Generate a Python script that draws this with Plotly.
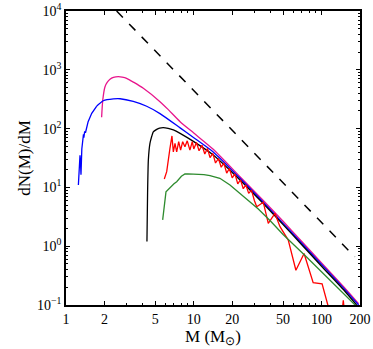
import plotly.graph_objects as go

# mass function curves
magenta_m = [1.90, 1.94, 2.02, 2.10, 2.21, 2.35, 2.57, 2.75, 2.98, 3.4, 4.03, 5.44, 6.32, 7.82, 10, 14.2, 23, 35, 50, 70, 100, 150, 195]
magenta_y = [156, 306, 516, 610, 689, 740, 764, 750, 716, 610, 484, 287, 210, 131, 84, 44.5, 15.2, 6.0, 2.65, 1.2, 0.52, 0.2, 0.105]

blue_m = [1.25, 1.27, 1.287, 1.30, 1.31, 1.33, 1.35, 1.37, 1.38, 1.40, 1.42, 1.45, 1.49, 1.59, 1.74, 1.96, 2.35, 2.65, 3.36, 4.28, 5.44, 7.82, 10, 14.2, 23, 35, 50, 70, 100, 150, 195]
blue_y = [11, 20, 35, 25, 16.5, 45, 56, 80, 70, 90, 85, 107, 131, 182, 242, 298, 320, 322, 290, 240, 180, 103, 70, 40, 14.3, 5.6, 2.45, 1.12, 0.49, 0.19, 0.1]

black_m = [4.30, 4.35, 4.41, 4.54, 4.69, 4.82, 5.13, 5.4, 5.77, 6.3, 6.92, 7.82, 10, 14.2, 23, 35, 50, 70, 100, 150, 188]
black_y = [1.2, 8, 29, 56, 74, 88, 97, 102, 104, 101, 95, 83, 60, 35.6, 13.4, 5.3, 2.33, 1.06, 0.457, 0.178, 0.1]

red_m = [5.88, 6.14, 6.51, 6.75, 6.92, 7.13, 7.35, 7.62, 7.89, 8.19, 8.53, 8.89, 9.33, 9.73, 10.0, 10.5, 11.0, 11.6, 12.2, 12.8, 13.4, 14.1, 14.8, 15.6, 16.4, 17.2, 18.1, 19.0, 20.0, 21.0, 22.1, 23.2, 24.4, 25.6, 26.9, 28.3, 29.8, 31.1, 35, 38.3, 43.2, 47.3, 54.9, 63, 73, 86, 101, 112, 118, 142, 148, 154]
red_y = [13.9, 18.5, 46, 75, 40, 56, 40, 60, 43, 60, 49, 62, 43, 60, 45, 58, 42, 52, 37, 46, 32, 38, 26, 31, 22, 26, 17.5, 21, 14.5, 17, 11.5, 13.5, 9.5, 11, 7.9, 9, 6.0, 4.7, 5.6, 2.45, 3.6, 2.15, 1.27, 0.39, 0.75, 0.24, 0.23, 0.1, 0.05, 0.05, 0.12, 0.05]

green_m = [5.71, 6.06, 7.0, 7.35, 8.0, 8.53, 9.0, 10.8, 12.0, 13.4, 16, 19.2, 23, 27.5, 32, 40, 50, 76, 100, 150, 183]
green_y = [2.8, 8.4, 11.5, 12.5, 15.5, 16.9, 17, 16.9, 16.5, 15.9, 14.3, 11, 7.9, 5.7, 4.3, 2.65, 1.58, 0.66, 0.37, 0.155, 0.1]

salpeter_m = [2.49, 182]
salpeter_y = [1e4, 0.66]

x_ticks = [1, 2, 5, 10, 20, 50, 100, 200]
y_ticks = [0.1, 1, 10, 100, 1000, 10000]
y_labels = ["10<sup>\u22121</sup>", "10<sup>0</sup>", "10<sup>1</sup>", "10<sup>2</sup>", "10<sup>3</sup>", "10<sup>4</sup>"]

x_minor = [3, 4, 6, 7, 8, 9, 30, 40, 60, 70, 80, 90]
y_minor = [k * 10 ** e for e in range(-1, 4) for k in range(2, 10)]

fig = go.Figure()

fig.add_trace(go.Scatter(x=salpeter_m, y=salpeter_y, mode='lines',
                         line=dict(color='black', width=1.5, dash='dash')))
fig.add_trace(go.Scatter(x=magenta_m, y=magenta_y, mode='lines',
                         line=dict(color='#e8158c', width=1.3, shape='spline', smoothing=0.6)))
fig.add_trace(go.Scatter(x=blue_m[:15], y=blue_y[:15], mode='lines',
                         line=dict(color='#0000ff', width=1.3)))
fig.add_trace(go.Scatter(x=blue_m[14:], y=blue_y[14:], mode='lines',
                         line=dict(color='#0000ff', width=1.3, shape='spline', smoothing=0.6)))
fig.add_trace(go.Scatter(x=black_m, y=black_y, mode='lines',
                         line=dict(color='black', width=1.3, shape='spline', smoothing=0.5)))
fig.add_trace(go.Scatter(x=red_m, y=red_y, mode='lines', line=dict(color='#ff0000', width=1.3)))
fig.add_trace(go.Scatter(x=green_m, y=green_y, mode='lines', line=dict(color='#2e8b2e', width=1.3)))

font = dict(family='Liberation Serif', size=14, color='black')

fig.update_layout(
    width=373, height=349,
    margin=dict(l=66, r=13, t=11, b=44),
    paper_bgcolor='white', plot_bgcolor='white',
    showlegend=False,
    font=font,
    xaxis=dict(
        type='log', range=[0, 2.30103], automargin=False,
        tickvals=x_ticks, ticktext=[str(v) for v in x_ticks],
        ticks='inside', ticklen=4, tickwidth=1, tickcolor='black',
        minor=dict(tickvals=x_minor, ticks='inside', ticklen=2, tickcolor='black'),
        showline=True, linecolor='black', linewidth=1.5, mirror='ticks',
        showgrid=False, zeroline=False,
        title=dict(text='M (M<sub>\u2299</sub>)', standoff=4),
    ),
    yaxis=dict(
        type='log', range=[-1, 4], automargin=False,
        tickvals=y_ticks, ticktext=y_labels,
        ticks='inside', ticklen=4, tickwidth=1, tickcolor='black',
        minor=dict(tickvals=y_minor, ticks='inside', ticklen=2, tickcolor='black'),
        showline=True, linecolor='black', linewidth=1.5, mirror='ticks',
        showgrid=False, zeroline=False,
        title=dict(text='dN(M)/dM', standoff=2),
    ),
)

# the page body has a default 8px margin; drop it so the figure sits at the window corner
fig.write_html("out.html", config={'displayModeBar': False},
               post_script="document.body.style.margin='0';document.body.style.overflow='hidden';")
